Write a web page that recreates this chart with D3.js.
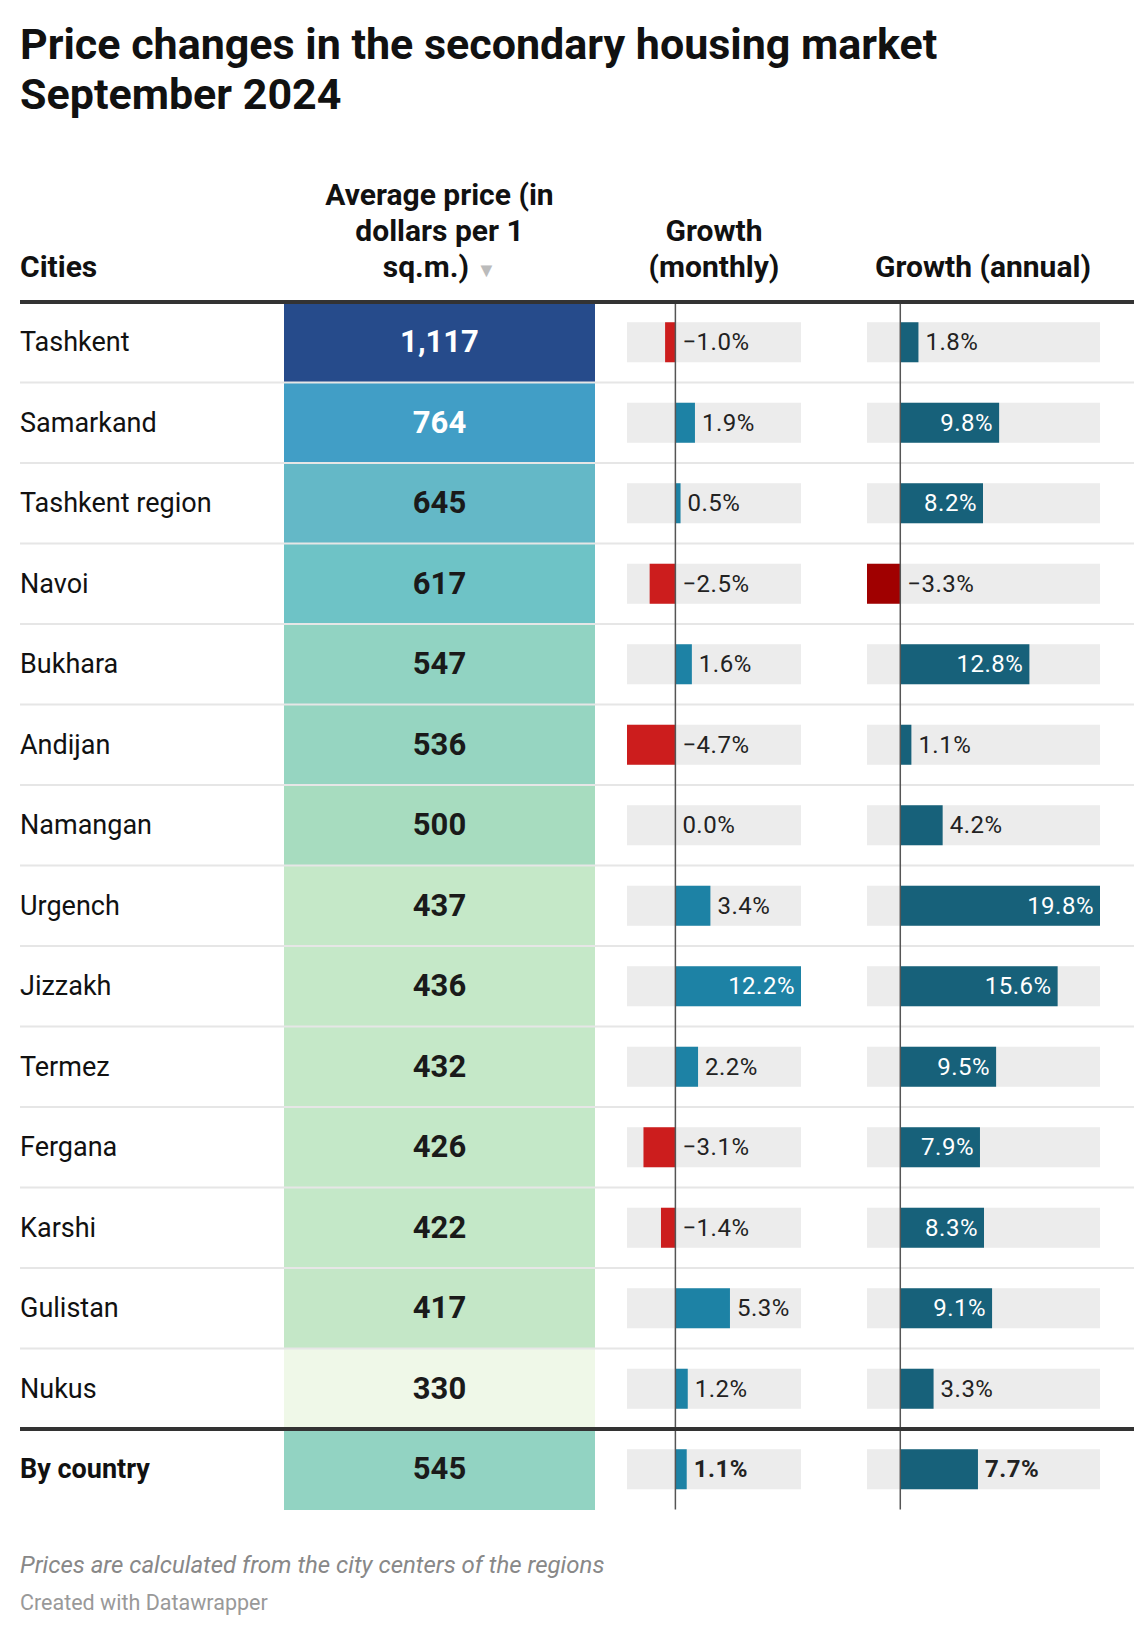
<!DOCTYPE html>
<html><head><meta charset="utf-8">
<script src="https://cdn.jsdelivr.net/npm/d3@7"></script>
<style>body{margin:0;background:#fff;font-family:Roboto,sans-serif}</style>
</head><body>
<script>
var cities=["Tashkent","Samarkand","Tashkent region","Navoi","Bukhara","Andijan","Namangan","Urgench","Jizzakh","Termez","Fergana","Karshi","Gulistan","Nukus"]
var prices=[1117,764,645,617,547,536,500,437,436,432,426,422,417,330]
var monthly=[-1.0,1.9,0.5,-2.5,1.6,-4.7,0.0,3.4,12.2,2.2,-3.1,-1.4,5.3,1.2]
var annual=[1.8,9.8,8.2,-3.3,12.8,1.1,4.2,19.8,15.6,9.5,7.9,8.3,9.1,3.3]
var total={name:"By country",price:545,monthly:1.1,annual:7.7}

var W=1148,H=1628
var svg=d3.select("body").append("svg").attr("width",W).attr("height",H)

// title
svg.append("text").attr("x",20).attr("y",59).attr("font-size",43).attr("font-weight",700).attr("fill","#111").text("Price changes in the secondary housing market")
svg.append("text").attr("x",20).attr("y",109).attr("font-size",43).attr("font-weight",700).attr("fill","#111").text("September 2024")

var tableTop=302, rowH=80.5
var rows=cities.map(function(c,i){return {name:c,price:prices[i],monthly:monthly[i],annual:annual[i]}})

var rowY=function(i){return tableTop+i*rowH}
var priceX=[284,595]
var mX=d3.scaleLinear().domain([-4.7,12.2]).range([627,801])
var aX=d3.scaleLinear().domain([-3.3,19.8]).range([867,1100])
var color=d3.scaleLinear()
  .domain([330,400,440,500,545,617,645,764,1117])
  .range(["#eff8e8","#c3e7c7","#c5e8c8","#a7dcbf","#92d3c2","#6ec3c6","#64b8c7","#419ec6","#264b8b"])

// headers
var hdr=svg.append("g").attr("font-size",30).attr("font-weight",700).attr("fill","#111")
hdr.append("text").attr("x",20).attr("y",277).text("Cities")
var ph=hdr.append("text").attr("text-anchor","middle")
;["Average price (in","dollars per 1"].forEach(function(t,i){
  ph.append("tspan").attr("x",(priceX[0]+priceX[1])/2).attr("y",205+i*36).text(t)
})
ph.append("tspan").attr("x",(priceX[0]+priceX[1])/2).attr("y",277).text("sq.m.) ")
  .append("tspan").attr("fill","#bbb").attr("font-size",20).text("\u25BC")
var mh=hdr.append("text").attr("text-anchor","middle")
;["Growth","(monthly)"].forEach(function(t,i){mh.append("tspan").attr("x",714).attr("y",241+i*36).text(t)})
hdr.append("text").attr("text-anchor","middle").attr("x",983).attr("y",277).text("Growth (annual)")

function drawRow(d,rtop,bold){
  var g=svg.append("g")
  var cy=rtop+rowH/2
  g.append("rect").attr("x",priceX[0]).attr("y",rtop).attr("width",priceX[1]-priceX[0]).attr("height",rowH+0.5).attr("fill",color(d.price))
  g.append("text").attr("x",20).attr("y",cy+9).attr("font-size",27).attr("font-weight",bold?700:400).attr("fill","#111").text(d.name)
  g.append("text").attr("x",(priceX[0]+priceX[1])/2).attr("y",cy+10).attr("text-anchor","middle").attr("font-size",31).attr("font-weight",700)
    .attr("fill",d.price>700?"#fff":"#1a1a1a").text(d3.format(",")(d.price))
  var bh=40
  ;[[mX,d.monthly,"#1d82a5","#cc1d1d",10],[aX,d.annual,"#17617a","#a00000",7.8]].forEach(function(s){
    var sc=s[0],v=s[1],r=sc.range()
    g.append("rect").attr("x",r[0]).attr("y",cy-bh/2).attr("width",r[1]-r[0]).attr("height",bh).attr("fill","#ececec")
    g.append("rect").attr("x",sc(Math.min(0,v))).attr("y",cy-bh/2).attr("width",Math.abs(sc(v)-sc(0))).attr("height",bh).attr("fill",v<0?s[3]:s[2])
    var lab=(v<0?"\u2212":"")+Math.abs(v).toFixed(1)+"%"
    var inside=v>s[4]
    var x0=v>0&&!inside?sc(v):sc(0)
    g.append("text").attr("x",inside?sc(v)-6:x0+7).attr("y",cy+8).attr("text-anchor",inside?"end":"start")
      .attr("font-size",24).attr("font-weight",bold?700:400).attr("letter-spacing",0.5).attr("fill",inside?"#fff":"#222").text(lab)
  })
}
rows.forEach(function(d,i){
  drawRow(d,rowY(i),false)
  if(i>0) svg.append("line").attr("x1",20).attr("x2",1134).attr("y1",rowY(i)).attr("y2",rowY(i)).attr("stroke","#e6e6e6").attr("stroke-width",2)
})
var btop=rowY(rows.length)
drawRow(total,btop,true)

// zero lines
;[mX,aX].forEach(function(sc){
  svg.append("line").attr("x1",sc(0)).attr("x2",sc(0)).attr("y1",tableTop).attr("y2",btop+rowH).attr("stroke","#555").attr("stroke-width",1.5)
})
svg.append("line").attr("x1",20).attr("x2",1134).attr("y1",tableTop).attr("y2",tableTop).attr("stroke","#333").attr("stroke-width",4)
svg.append("line").attr("x1",20).attr("x2",1134).attr("y1",btop).attr("y2",btop).attr("stroke","#333").attr("stroke-width",4)

svg.append("text").attr("x",20).attr("y",1573).attr("font-size",24).attr("font-style","italic").attr("fill","#888").text("Prices are calculated from the city centers of the regions")
svg.append("text").attr("x",20).attr("y",1610).attr("font-size",21.5).attr("fill","#999").text("Created with Datawrapper")
</script>
</body></html>
